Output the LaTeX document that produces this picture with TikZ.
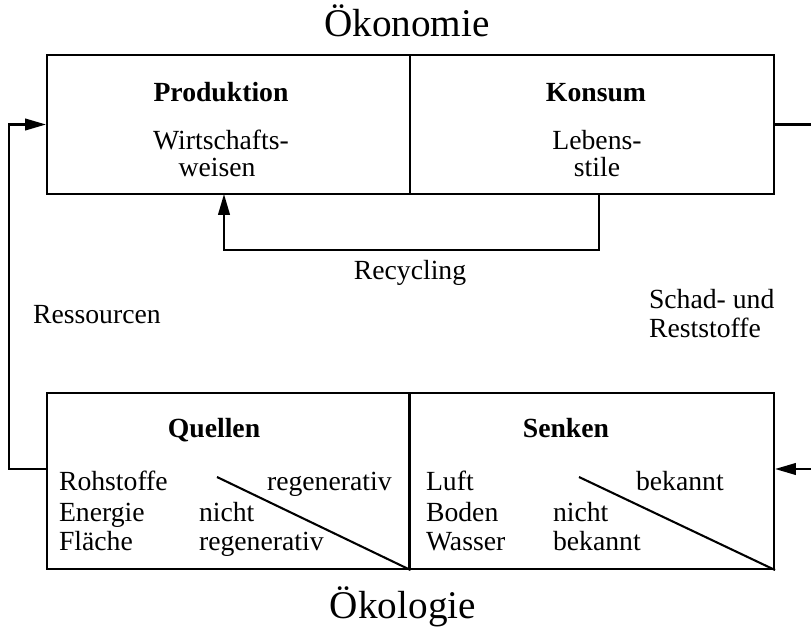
\documentclass[tikz,border=0pt]{standalone}
\usepackage{fontspec}
\setmainfont{Liberation Serif}
\usetikzlibrary{arrows.meta}

\begin{document}
\begin{tikzpicture}[x=0.4333pt, y=-0.4333pt, line width=0.9pt,
  txt/.style={inner sep=0pt, font=\fontsize{12}{14}\selectfont},
  kopf/.style={txt, font=\fontsize{12}{14}\selectfont\bfseries},
  titel/.style={inner sep=0pt, font=\fontsize{17}{20}\selectfont},
  feld/.style={draw, inner sep=0pt, minimum width=#1*0.4333pt},
  pfeil/.style={-{Triangle[length=9pt,width=5pt]}}]
\useasboundingbox (0,0) rectangle (811,629);
% Oekonomie
\node [titel, anchor=base] (oekon) at (407,36) {Ökonomie};
\node [feld=363, minimum height=139*0.4333pt] (prod) at (228.5,124.5) {};
\node [feld=364, minimum height=139*0.4333pt] (kons) at (592,124.5) {};
\node [kopf, anchor=base] (prodk) at (221,102) {Produktion};
\node [txt, anchor=base] (prod1) at (221,149) {Wirtschafts-};
\node [txt, anchor=base] (prod2) at (217,176) {weisen};
\node [kopf, anchor=base] (konsk) at (596,102) {Konsum};
\node [txt, anchor=base] (kons1) at (597,149) {Lebens-};
\node [txt, anchor=base] (kons2) at (597,176) {stile};
% Recycling
\coordinate (recA) at (599,194);
\coordinate (recB) at (224,194);
\draw [pfeil] (recA) -- ++(0,56) -| (recB);
\node [txt, anchor=base] (recyc) at (410,279) {Recycling};
\node [txt, anchor=base west] (ress) at (32,323) {Ressourcen};
\node [txt, anchor=base west] (schad1) at (648,308) {Schad- und};
\node [txt, anchor=base west] (schad2) at (648,337) {Reststoffe};
% Oekologie
\node [feld=362.5, minimum height=176*0.4333pt] (quel) at (228.25,481) {};
\node [feld=364.5, minimum height=176*0.4333pt] (senk) at (591.75,481) {};
\node [kopf, anchor=base] (quelk) at (214,437) {Quellen};
\node [kopf, anchor=base] (senkk) at (566,437) {Senken};
\node [txt, anchor=base west] (roh) at (58,490) {Rohstoffe};
\node [txt, anchor=base west] (ener) at (58,521) {Energie};
\node [txt, anchor=base west] (flae) at (58,550) {Fläche};
\node [txt, anchor=base west] (qreg) at (266,490) {regenerativ};
\node [txt, anchor=base west] (qnicht) at (198,521) {nicht};
\node [txt, anchor=base west] (qnreg) at (198,550) {regenerativ};
\node [txt, anchor=base west] (luft) at (425,490) {Luft};
\node [txt, anchor=base west] (boden) at (425,521) {Boden};
\node [txt, anchor=base west] (wass) at (425,550) {Wasser};
\node [txt, anchor=base west] (sbek) at (635,490) {bekannt};
\node [txt, anchor=base west] (snicht) at (552,521) {nicht};
\node [txt, anchor=base west] (snbek) at (552,550) {bekannt};
\coordinate (qdiag) at (217,477);
\coordinate (sdiag) at (579,477);
\draw (qdiag) -- (quel.south east);
\draw (sdiag) -- (senk.south east);
\node [titel, anchor=base] (oekol) at (403,618) {Ökologie};
% Stoffstroeme
\coordinate (qaus) at (47,469);
\coordinate (sein) at (811,469);
\draw [pfeil] (qaus) -- ++(-38,0) |- (prod.west);
\draw (kons.east) -- ++(37,0);
\draw [pfeil] (sein) -- (sein -| senk.east);
\end{tikzpicture}
\end{document}
